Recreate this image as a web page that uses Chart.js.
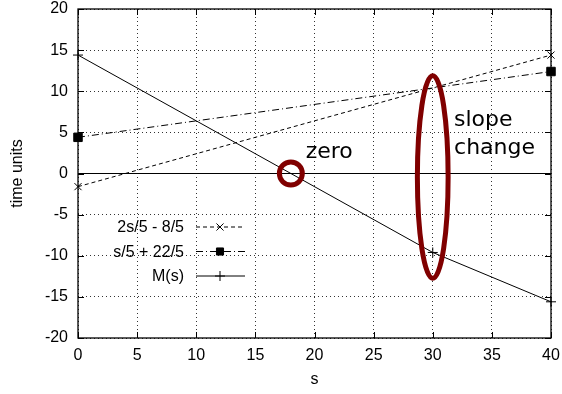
<!DOCTYPE html>
<html>
<head>
<meta charset="utf-8">
<script src="https://cdn.jsdelivr.net/npm/chart.js@4/dist/chart.umd.min.js"></script>
<style>
  html, body { margin: 0; padding: 0; background: #fff; }
  #wrap { width: 562px; height: 394px; }
</style>
</head>
<body>
<div id="wrap"><canvas id="chart"></canvas></div>
<script>
// ─── Data ────────────────────────────────────────────────────────────────────
const xTicks = [0, 5, 10, 15, 20, 25, 30, 35, 40];
const yTicks = [-20, -15, -10, -5, 0, 5, 10, 15, 20];

const seriesLabels = ["2s/5 - 8/5", "s/5 + 22/5", "M(s)"];
const sLinearX = [0, 40];
const sLinearY = [-1.6, 14.4];
const sShiftX = [0, 40];
const sShiftY = [4.4, 12.4];
const mX = [0, 30, 40];
const mY = [14.4, -9.6, -15.6];
const zeroX = [0, 40];
const zeroY = [0, 0];

// annotation marks (data coordinates)
const ovalCx = [18, 30];
const ovalCy = [0, -0.43];
const ovalRx = [0.97, 1.3];
const ovalRy = [1.4, 12.3];
const noteText = ["zero", "slope", "change"];
const noteX = [19.25, 31.8, 31.8];
const noteY = [1.85, 5.8, 2.35];

const FONT = "'Liberation Sans', Arial, sans-serif";
const toPts = (xs, ys) => xs.map((x, i) => ({ x, y: ys[i] }));

// ─── Overlay: frame, inward ticks, notes, legend, axis titles ──────────────────
const overlay = {
  id: "overlay",
  afterDatasetsDraw(chart) {
    const { ctx, chartArea: a, scales } = chart;
    const sx = scales.x, sy = scales.y;
    ctx.save();
    ctx.strokeStyle = "#000";
    ctx.lineWidth = 1;
    ctx.setLineDash([]);

    // inward tick marks
    ctx.beginPath();
    xTicks.forEach((v) => {
      const px = Math.round(sx.getPixelForValue(v)) + 0.5;
      ctx.moveTo(px, a.bottom); ctx.lineTo(px, a.bottom - 6);
      ctx.moveTo(px, a.top); ctx.lineTo(px, a.top + 6);
    });
    yTicks.forEach((v) => {
      const py = Math.round(sy.getPixelForValue(v)) + 0.5;
      ctx.moveTo(a.left, py); ctx.lineTo(a.left + 6, py);
      ctx.moveTo(a.right, py); ctx.lineTo(a.right - 6, py);
    });
    ctx.stroke();

    // frame
    ctx.lineWidth = 1.3;
    ctx.strokeRect(a.left, a.top, a.right - a.left, a.bottom - a.top);

    // red ovals
    ctx.strokeStyle = "#800000";
    ctx.lineWidth = 5;
    ovalCx.forEach((cx, i) => {
      const px = sx.getPixelForValue(cx);
      const py = sy.getPixelForValue(ovalCy[i]);
      const rx = Math.abs(sx.getPixelForValue(cx + ovalRx[i]) - px);
      const ry = Math.abs(sy.getPixelForValue(ovalCy[i] + ovalRy[i]) - py);
      ctx.beginPath();
      ctx.ellipse(px, py, rx, ry, 0, 0, Math.PI * 2);
      ctx.stroke();
    });

    // note text
    ctx.fillStyle = "#000";
    ctx.font = "22px 'DejaVu Sans', sans-serif";
    ctx.textAlign = "left";
    ctx.textBaseline = "alphabetic";
    noteText.forEach((t, i) => {
      ctx.fillText(t, sx.getPixelForValue(noteX[i]), sy.getPixelForValue(noteY[i]));
    });

    // legend (inside, bottom left)
    const entries = chart.data.datasets.filter((d) => !d.hideKey);
    ctx.font = "16px " + FONT;
    ctx.textAlign = "right";
    ctx.textBaseline = "middle";
    entries.forEach((d, i) => {
      const y = 227 + i * 24.5;
      ctx.fillStyle = "#000";
      ctx.fillText(d.label, 184, y + 1);
      ctx.strokeStyle = "#000";
      ctx.lineWidth = 1;
      ctx.setLineDash(d.borderDash || []);
      ctx.beginPath();
      ctx.moveTo(196, y); ctx.lineTo(245, y);
      ctx.stroke();
      ctx.setLineDash([]);
      Chart.helpers.drawPoint(ctx, {
        pointStyle: d.pointStyle, radius: d.pointStyle === "rect" ? 5 : d.pointRadius,
        rotation: 0, borderWidth: 1,
      }, 220, y);
    });

    // axis titles
    ctx.font = "16px " + FONT;
    ctx.textAlign = "center";
    ctx.textBaseline = "middle";
    ctx.fillText("s", (a.left + a.right) / 2, 380);
    ctx.save();
    ctx.translate(18, (a.top + a.bottom) / 2);
    ctx.rotate(-Math.PI / 2);
    ctx.fillText("time units", 0, 0);
    ctx.restore();

    ctx.restore();
  },
};

// ─── Chart ────────────────────────────────────────────────────────────────────
const common = {
  borderColor: "#000",
  backgroundColor: "#000",
  pointBorderColor: "#000",
  pointBackgroundColor: "#000",
  borderWidth: 1,
  pointBorderWidth: 1,
  fill: false,
  tension: 0,
  clip: false,
};

new Chart(document.getElementById("chart"), {
  type: "line",
  data: {
    datasets: [
      {
        ...common,
        label: "zero axis",
        hideKey: true,
        data: toPts(zeroX, zeroY),
        pointRadius: 0,
      },
      {
        ...common,
        label: seriesLabels[0],
        data: toPts(sLinearX, sLinearY),
        borderDash: [4, 3],
        pointStyle: "crossRot",
        pointRadius: 5,
      },
      {
        ...common,
        label: seriesLabels[1],
        data: toPts(sShiftX, sShiftY),
        borderDash: [7, 3, 1, 3],
        pointStyle: "rect",
        pointRadius: 6,
      },
      {
        ...common,
        label: seriesLabels[2],
        data: toPts(mX, mY),
        pointStyle: "cross",
        pointRadius: 5,
      },
    ],
  },
  options: {
    responsive: true,
    maintainAspectRatio: false,
    animation: false,
    layout: { padding: { top: 9, right: 11, left: 0, bottom: 0 } },
    plugins: { legend: { display: false }, tooltip: { enabled: false } },
    scales: {
      x: {
        type: "linear",
        min: 0,
        max: 40,
        afterBuildTicks: (s) => { s.ticks = xTicks.map((v) => ({ value: v })); },
        afterFit: (s) => { s.height = 56; s.paddingLeft = 0; s.paddingRight = 0; },
        ticks: { color: "#000", font: { family: FONT, size: 16 }, padding: 8, maxRotation: 0 },
        grid: { color: "#333", lineWidth: 1, drawTicks: false },
        border: { display: false, dash: [1, 3] },
      },
      y: {
        min: -20,
        max: 20,
        afterBuildTicks: (s) => { s.ticks = yTicks.map((v) => ({ value: v })); },
        afterFit: (s) => { s.width = 78; s.paddingTop = 0; s.paddingBottom = 0; },
        ticks: { color: "#000", font: { family: FONT, size: 16 }, padding: 10 },
        grid: { color: "#333", lineWidth: 1, drawTicks: false },
        border: { display: false, dash: [1, 3] },
      },
    },
  },
  plugins: [overlay],
});
</script>
</body>
</html>
